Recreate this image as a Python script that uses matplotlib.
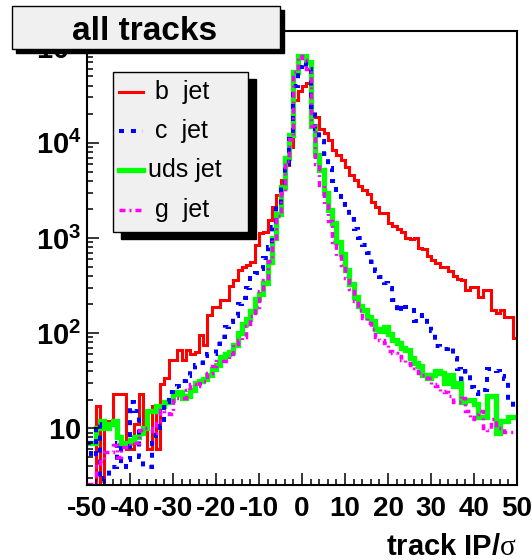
'''
Track impact parameter significance,
all tracks, split by jet flavour
(ROOT style log histogram)
'''

import numpy as np
import matplotlib
matplotlib.use('Agg')
import matplotlib.pyplot as plt
from matplotlib.patches import Rectangle
from matplotlib.lines import Line2D
from matplotlib.ticker import MultipleLocator, LogLocator, NullFormatter

# ROOT-ish look
root_theme = {'font.family': ['Liberation Sans', 'DejaVu Sans'],
              'mathtext.fontset': 'custom',
              'mathtext.bf': 'Liberation Sans:bold',
              'mathtext.rm': 'Liberation Serif',
              'axes.unicode_minus': False,
              'lines.scale_dashes': False,
              'figure.dpi': 100}
matplotlib.rcParams.update(root_theme)

# 100 bins of width 1 from -50 to 50 (entries per bin)
bin_edges = np.arange(-50, 51, 1)

b_jet = [0, 0, 17, 0, 12, 12, 23, 23, 23, 6,
         6, 11, 23, 11, 6, 17, 6, 29, 34, 52,
         52, 66, 52, 66, 60, 63, 95, 75, 155, 190,
         190, 223, 223, 310, 360, 460, 500, 520, 565, 845,
         1120, 1170, 1550, 2140, 2800, 4050, 5850, 9100, 28500, 35000,
         40000, 43000, 19700, 18700, 14000, 12600, 10700, 8400, 7400, 6600,
         5600, 4600, 4100, 3500, 3200, 2900, 2400, 2100, 1850, 1820,
         1450, 1350, 1250, 1170, 1000, 980, 1000, 790, 770, 650,
         590, 540, 490, 490, 450, 400, 370, 360, 285, 305,
         305, 240, 283, 283, 175, 162, 175, 148, 148, 89]

c_jet = [7, 5, 11, 2.8, 3, 3.9, 3.9, 7, 3.9, 4.6,
         19, 15, 5, 3.9, 3.9, 7, 10, 10.5, 19, 24,
         27, 28, 31, 35, 40, 46, 49, 57, 60, 61,
         76, 90, 115, 130, 150, 200, 235, 300, 400, 430,
         470, 620, 800, 1300, 2200, 3600, 6000, 11000, 40000, 62000,
         70000, 60000, 24000, 14000, 10500, 7600, 5500, 4000, 3000, 2300,
         2000, 1600, 1250, 1000, 850, 700, 560, 450, 390, 340,
         300, 225, 167, 200, 190, 190, 134, 150, 155, 120,
         105, 74, 70, 68, 71, 55, 42, 33, 40, 27,
         24, 23, 25, 42, 42, 40, 35, 33, 19.5, 15.6]

uds_jet = [7, 7, 10, 12, 10, 11, 12, 8, 6.5, 7,
           7.5, 8, 9, 10, 15, 15, 17, 17, 19, 20,
           23, 24, 21, 22, 25, 30, 31, 33, 36, 42,
           46, 56, 60, 63, 75, 100, 125, 140, 170, 230,
           260, 340, 560, 1000, 1800, 3400, 7000, 12000, 55000, 81000,
           81000, 70000, 15000, 7500, 5200, 3000, 1950, 1440, 910, 680,
           460, 325, 240, 195, 174, 148, 135, 110, 105, 117,
           98, 85, 78, 70, 66, 55, 49, 45, 36, 34,
           36, 40, 38, 30, 36, 28, 30, 19, 20, 20,
           18, 13, 13, 22, 22, 9, 12, 12, 13, 13]

g_jet = [2.6, 2.6, 4, 4.5, 5.6, 5.6, 6.6, 5, 6.4, 6.4,
         7, 7, 9.5, 10, 10, 8.9, 12, 15.5, 15, 14,
         21, 21, 21, 25, 29, 28, 30, 31, 38, 45,
         51, 51, 51, 60, 76, 85, 91, 120, 150, 187,
         275, 360, 575, 1000, 1700, 3000, 6500, 11000, 55000, 81000,
         75000, 60000, 15000, 6000, 3600, 2200, 1500, 900, 650, 520,
         380, 290, 220, 175, 145, 128, 110, 92, 85, 78,
         65, 62, 57, 52, 49, 46, 43, 38, 36, 34,
         29, 28, 24.5, 24, 22, 19, 19, 21, 15, 12.5,
         14, 15, 10, 9.5, 12.5, 10, 10, 9.2, 9.1, 9.3]

labels = [' b  jet', ' c  jet', 'uds jet', ' g  jet']
colors = ['#ff0000', '#0000ff', '#00ff00', '#ff00ff']

# figure is laid out in pixels of the 532x560 canvas
W, H = 532, 560
def fx(x):
    return x / W
def fy(y):
    return 1 - y / H

fig = plt.figure(figsize=(W / 100, H / 100), dpi=100)
ax = fig.add_axes([fx(87), fy(485), (517 - 87) / W, (485 - 31) / H])

# line styles (points): solid, dashed, thick solid, dash-dot
styles = {' b  jet': dict(lw=2.2, ls='-'),
          ' c  jet': dict(lw=2.9, ls=(0, (3.6, 5.0))),
          'uds jet': dict(lw=3.8, ls='-'),
          ' g  jet': dict(lw=2.5, ls=(0, (4.3, 2.9, 1.4, 2.9)))}

hists = dict(zip(labels, [b_jet, c_jet, uds_jet, g_jet]))
cmap = dict(zip(labels, colors))

# draw order: b, uds, c, g
for lab in [' b  jet', 'uds jet', ' c  jet', ' g  jet']:
    v = np.asarray(hists[lab], float)
    v = np.where(v > 0, v, 0.3)   # empty bins fall below the axis
    ax.stairs(v, bin_edges, baseline=None, color=cmap[lab],
              linewidth=styles[lab]['lw'], linestyle=styles[lab]['ls'])

ax.set_xlim(-50, 50)
ax.set_yscale('log')
ax.set_ylim(2.53, 1.5e5)

xt = np.arange(-50, 51, 10)
ax.set_xticks(xt, [str(t) for t in xt], fontsize=20, fontweight='bold')
ax.xaxis.set_minor_locator(MultipleLocator(2))
yt = [10, 100, 1000, 10000, 100000]
ytl = [r'$\mathbf{10}$'] + [r'$\mathbf{10^{%d}}$' % k for k in range(2, 6)]
ax.set_yticks(yt, ytl, fontsize=21)
ax.yaxis.set_minor_locator(LogLocator(base=10, subs=np.arange(2, 10)))
ax.yaxis.set_minor_formatter(NullFormatter())

ax.tick_params(which='both', direction='in', top=False, right=False, width=1.1)
ax.tick_params(which='major', length=8.6)
ax.tick_params(which='minor', length=4.3)
ax.tick_params(axis='x', pad=8)
ax.tick_params(axis='y', pad=4)
for s in ax.spines.values():
    s.set_linewidth(1.5)

# x axis title
fig.text(fx(517), fy(555), r'track IP/$\mathrm{\sigma}$', ha='right',
         va='baseline', fontsize=21, fontweight='bold')

# title pave with shadow
fig.add_artist(Rectangle((fx(16), fy(53)), (280 - 12) / W, (49 - 6) / H,
                         transform=fig.transFigure, facecolor='k',
                         edgecolor='k', zorder=2))
fig.add_artist(Rectangle((fx(12), fy(49)), (280 - 12) / W, (49 - 6) / H,
                         transform=fig.transFigure, facecolor='#f0f0f0',
                         edgecolor='k', lw=1, zorder=3))
fig.text(fx(145), fy(31), 'all tracks', ha='center', va='center',
         fontsize=24, fontweight='bold', zorder=5)

# legend pave with shadow
fig.add_artist(Rectangle((fx(121), fy(239)), (248 - 113) / W, (232 - 72) / H,
                         transform=fig.transFigure, facecolor='k',
                         edgecolor='k', zorder=2))
fig.add_artist(Rectangle((fx(113), fy(232)), (248 - 113) / W, (232 - 72) / H,
                         transform=fig.transFigure, facecolor='#f0f0f0',
                         edgecolor='k', lw=1, zorder=3))
row_y = [92, 131, 170, 210]
for lab, y in zip(labels, row_y):
    fig.add_artist(Line2D([fx(119), fx(143)], [fy(y), fy(y)],
                          transform=fig.transFigure, color=cmap[lab],
                          linewidth=styles[lab]['lw'],
                          linestyle=styles[lab]['ls'], zorder=4))
    fig.text(fx(148), fy(y), lab, ha='left', va='center', fontsize=18,
             zorder=5)

fig.savefig('out.png', dpi=100)
